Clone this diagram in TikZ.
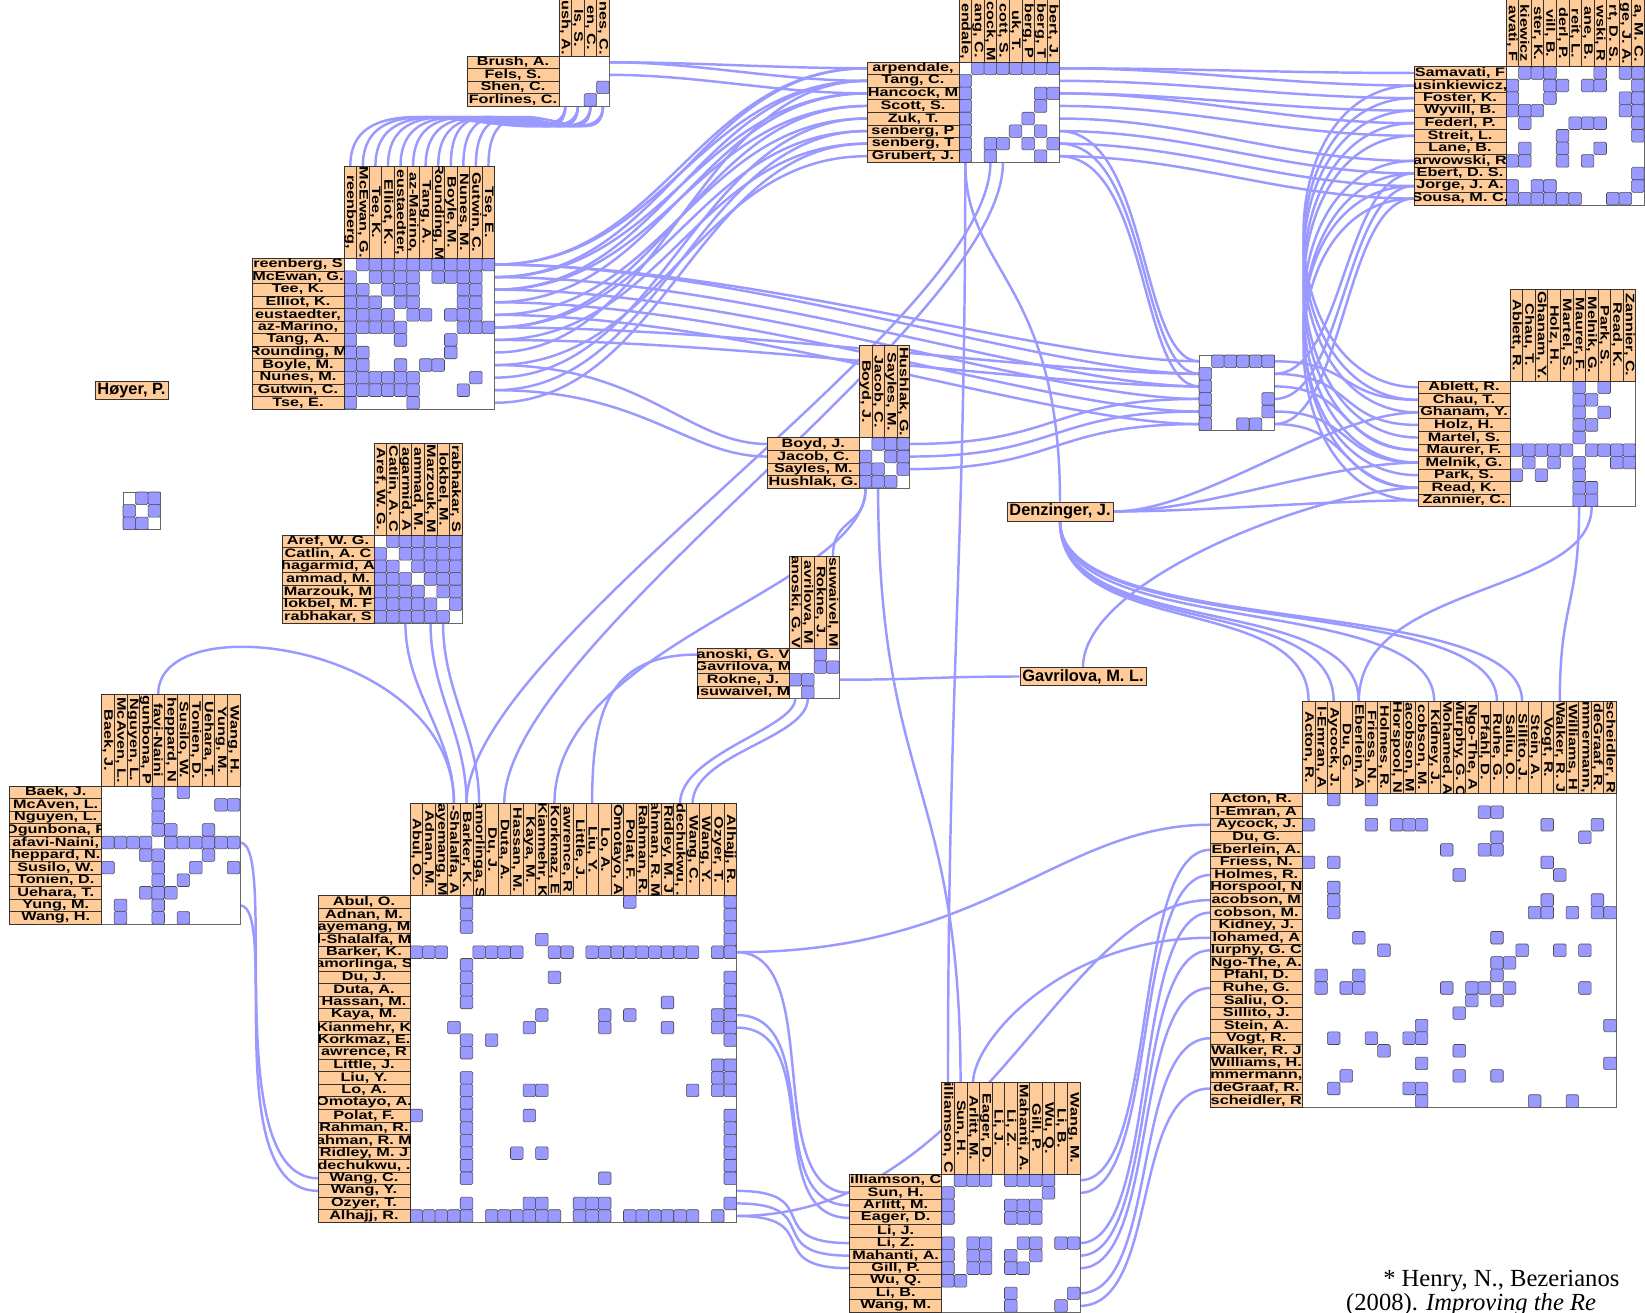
\documentclass[tikz,border=0pt]{standalone}
\usepackage{fontspec}
\setmainfont{Liberation Serif}
\newfontfamily\lblfont{Liberation Sans}[FakeStretch=1.32]
\newfontfamily\tagfont{Liberation Sans}
\usetikzlibrary{positioning,backgrounds}

\definecolor{peach}{RGB}{255,204,153}
\definecolor{linkblue}{RGB}{153,153,255}
\definecolor{cellblue}{RGB}{153,153,255}

\newcommand\cs{12.56}
\newcommand\lw{92}

\tikzset{
  link/.style={draw=linkblue, line width=2.1pt},
  mframe/.style={draw=black!60, line width=0.6pt, fill=white},
  lblbox/.style={draw=black!80, line width=0.5pt, fill=peach},
  lbltext/.style={font=\lblfont\bfseries\fontsize{10.5}{10.5}\selectfont, inner sep=0pt},
  cell/.style={draw=black!70, fill=cellblue, line width=0.5pt, rounded corners=1.2pt},
  tag/.style={draw=black!80, line width=0.6pt, fill=peach, inner xsep=2pt, inner ysep=1.5pt,
    font=\tagfont\bfseries\fontsize{14}{15}\selectfont},
}

% cells of a matrix and the anchors of its rows and columns
% #1 name, #2 x, #3 y (top left of the cells), #4 size, #5 pairs, #6 label offset
\newcommand\cells[6]{%
  \pgfmathsetmacro\mx{#2}\pgfmathsetmacro\my{#3}\pgfmathsetmacro\ms{#4*\cs}
  \draw[mframe] (\mx,\my) rectangle ++(\ms,\ms);
  \foreach \i/\j in {#5} {
    \draw[cell] ({\mx+(\j-1)*\cs},{\my+(\i-1)*\cs}) rectangle ++(\cs,\cs);
    \draw[cell] ({\mx+(\i-1)*\cs},{\my+(\j-1)*\cs}) rectangle ++(\cs,\cs);
  }
  \foreach \k in {1,...,#4} {
    \coordinate (#1-w\k) at ({\mx-#6},{\my+(\k-0.5)*\cs});
    \coordinate (#1-e\k) at ({\mx+\ms},{\my+(\k-0.5)*\cs});
    \coordinate (#1-t\k) at ({\mx+(\k-0.5)*\cs},{\my-#6});
    \coordinate (#1-b\k) at ({\mx+(\k-0.5)*\cs},{\my+\ms});
  }
}
% a labelled matrix: #1 name, #2 x, #3 y, #4 size, #5 row labels, #6 column labels, #7 pairs
\newcommand\nodetrix[7]{%
  \cells{#1}{#2}{#3}{#4}{#7}{\lw}
  \foreach \lab [count=\i] in {#5} {
    \pgfmathsetmacro\ry{#3+(\i-1)*\cs}
    \draw[lblbox] ({#2-\lw},\ry) rectangle ++(\lw,\cs);
    \begin{scope}
      \clip ({#2-\lw},\ry) rectangle ++(\lw,\cs);
      \node[lbltext] (#1-r\i) at ({#2-\lw/2},{\ry+\cs/2}) {\lab};
    \end{scope}
  }
  \pgfmathsetmacro\hy{max(#3-\lw/2,#3/2)}
  \foreach \lab [count=\j] in {#6} {
    \pgfmathsetmacro\cx{#2+(\j-1)*\cs}
    \draw[lblbox] (\cx,{#3-\lw}) rectangle ++(\cs,\lw);
    \begin{scope}
      \clip (\cx,{#3-\lw}) rectangle ++(\cs,\lw);
      \node[lbltext, rotate=-90] (#1-c\j) at ({\cx+\cs/2},\hy) {\lab};
    \end{scope}
  }
}

\begin{document}
\begin{tikzpicture}[x=0.3mm,y=-0.3mm]
\useasboundingbox (0,0) rectangle (1645,1313);

% Brush
\nodetrix{brush}{559}{56}{4}
  {{Brush, A.},{Fels, S.},{Shen, C.},{Forlines, C.}}
  {{ush, A.},{ls, S.},{en, C.},{nes, C.}}
  {3/4}
% Greenberg
\nodetrix{greenberg}{344}{258.3}{12}
  {{reenberg, S},{McEwan, G.},{Tee, K.},{Elliot, K.},{eustaedter,},{az-Marino,},{Tang, A.},{Rounding, M},{Boyle, M.},{Nunes, M.},{Gutwin, C.},{Tse, E.}}
  {{reenberg,},{McEwan, G.},{Tee, K.},{Elliot, K.},{eustaedter,},{az-Marino,},{Tang, A.},{Rounding, M},{Boyle, M.},{Nunes, M.},{Gutwin, C.},{Tse, E.}}
  {1/2,1/3,1/4,1/5,1/6,1/7,1/8,1/9,1/10,1/11,1/12,2/3,2/4,2/5,2/6,2/8,2/9,2/10,2/11,3/4,3/5,3/6,3/10,3/11,4/5,4/6,4/10,4/11,5/6,5/7,5/9,5/10,5/11,6/10,6/11,6/12,7/9,8/9,10/11}
% Carpendale
\nodetrix{carpendale}{959}{62}{8}
  {{arpendale,},{Tang, C.},{Hancock, M},{Scott, S.},{Zuk, T.},{senberg, P},{senberg, T},{Grubert, J.}}
  {{endale,},{ang, C.},{cock, M},{cott, S.},{uk, T.},{berg, P},{berg, T},{bert, J.}}
  {1/2,1/3,1/4,1/5,1/6,1/7,1/8,3/7,3/8,4/7,5/6,6/7,7/8}
% Samavati
\nodetrix{samavati}{1506}{66.7}{11}
  {{Samavati, F},{usinkiewicz,},{Foster, K.},{Wyvill, B.},{Federl, P.},{Streit, L.},{Lane, B.},{arwowski, R},{Ebert, D. S.},{Jorge, J. A.},{Sousa, M. C.}}
  {{avati, F},{kiewicz},{ster, K.},{vill, B.},{derl, P.},{reit, L.},{ane, B.},{wski, R},{rt, D. S.},{ge, J. A.},{a, M. C.}}
  {1/2,1/3,1/4,1/8,1/10,1/11,2/4,2/5,2/7,2/8,2/11,3/4,3/10,3/11,4/10,4/11,5/6,5/7,5/8,5/11,6/11,7/8,9/11,10/11}
% Ablett
\nodetrix{ablett}{1510}{381}{10}
  {{Ablett, R.},{Chau, T.},{Ghanam, Y.},{Holz, H.},{Martel, S.},{Maurer, F.},{Melnik, G.},{Park, S.},{Read, K.},{Zannier, C.}}
  {{Ablett, R.},{Chau, T.},{Ghanam, Y.},{Holz, H.},{Martel, S.},{Maurer, F.},{Melnik, G.},{Park, S.},{Read, K.},{Zannier, C.}}
  {1/6,1/8,2/6,2/7,3/6,3/8,4/6,4/7,5/6,6/7,6/8,6/9,6/10,7/9,7/10}
% Aref
\nodetrix{aref}{374}{535}{7}
  {{Aref, W. G.},{Catlin, A. C},{hagarmid, A},{ammad, M.},{Marzouk, M},{lokbel, M. F},{rabhakar, S}}
  {{Aref, W. G.},{Catlin, A. C},{agarmid, A},{ammad, M.},{Marzouk, M},{lokbel, M.},{rabhakar, S}}
  {1/2,1/3,1/4,1/5,1/6,1/7,2/3,2/4,2/5,2/6,2/7,3/4,3/5,3/6,3/7,4/5,4/6,4/7,5/6,5/7,6/7}
% Boyd
\nodetrix{boyd}{859.3}{437.7}{4}
  {{Boyd, J.},{Jacob, C.},{Sayles, M.},{Hushlak, G.}}
  {{Boyd, J.},{Jacob, C.},{Sayles, M.},{Hushlak, G.}}
  {1/2,1/3,1/4,2/3,2/4,3/4}
% Rokne
\nodetrix{rokne}{789}{648.3}{4}
  {{anoski, G. V},{Gavrilova, M},{Rokne, J.},{Isuwaivel, M}}
  {{anoski, G. V},{avrilova, M},{Rokne, J.},{suwaivel, M}}
  {1/3,2/3,2/4}
% Baek
\nodetrix{baek}{101.7}{786}{11}
  {{Baek, J.},{McAven, L.},{Nguyen, L.},{Ogunbona, P},{afavi-Naini,},{heppard, N.},{Susilo, W.},{Tonien, D.},{Uehara, T.},{Yung, M.},{Wang, H.}}
  {{Baek, J.},{McAven, L.},{Nguyen, L.},{gunbona, P},{favi-Naini},{heppard, N},{Susilo, W.},{Tonien, D.},{Uehara, T.},{Yung, M.},{Wang, H.}}
  {1/5,1/7,2/5,2/10,2/11,3/5,4/5,4/6,4/9,5/6,5/7,5/8,5/9,5/10,5/11,6/9,7/8,7/11}
% Alhajj
\nodetrix{alhajj}{410}{895.7}{26}
  {{Abul, O.},{Adnan, M.},{ayemang, M},{l-Shalalfa, M},{Barker, K.},{amorlinga, S},{Du, J.},{Duta, A.},{Hassan, M.},{Kaya, M.},{Kianmehr, K},{Korkmaz, E.},{awrence, R},{Little, J.},{Liu, Y.},{Lo, A.},{Omotayo, A.},{Polat, F.},{Rahman, R.},{ahman, R. M},{Ridley, M. J},{dechukwu, .},{Wang, C.},{Wang, Y.},{Ozyer, T.},{Alhajj, R.}}
  {{Abul, O.},{Adnan, M.},{ayemang, M},{-Shalalfa, A},{Barker, K.},{amorlinga, S},{Du, J.},{Duta, A.},{Hassan, M.},{Kaya, M.},{Kianmehr, K},{Korkmaz, E},{awrence, R},{Little, J.},{Liu, Y.},{Lo, A.},{Omotayo, A},{Polat, F.},{Rahman, R.},{ahman, R. M},{Ridley, M. J},{dechukwu, .},{Wang, C.},{Wang, Y.},{Ozyer, T.},{Alhajj, R.}}
  {1/5,1/18,1/26,2/5,2/26,3/5,3/26,4/11,4/26,5/6,5/7,5/8,5/9,5/12,5/13,5/15,5/16,5/17,5/18,5/19,5/20,5/21,5/22,5/23,5/25,5/26,7/12,7/26,8/26,9/21,9/26,10/11,10/16,10/18,10/25,10/26,11/16,11/21,11/25,11/26,12/26,14/25,14/26,15/25,15/26,16/23,16/25,16/26,18/26,19/26,20/26,21/26,22/26,23/26,25/26}
% Williamson
\nodetrix{williamson}{941.7}{1174}{11}
  {{illiamson, C},{Sun, H.},{Arlitt, M.},{Eager, D.},{Li, J.},{Li, Z.},{Mahanti, A.},{Gill, P.},{Wu, Q.},{Li, B.},{Wang, M.}}
  {{illiamson, C},{Sun, H.},{Arlitt, M.},{Eager, D.},{Li, J.},{Li, Z.},{Mahanti, A.},{Gill, P.},{Wu, Q.},{Li, B.},{Wang, M.}}
  {1/2,1/3,1/4,1/6,1/7,1/8,1/9,2/9,3/6,3/7,3/8,4/6,4/7,4/8,6/7,6/8,6/10,6/11,7/8,10/11}
% Acton
\nodetrix{acton}{1302.3}{793.3}{25}
  {{Acton, R.},{l-Emran, A},{Aycock, J.},{Du, G.},{Eberlein, A.},{Friess, N.},{Holmes, R.},{Horspool, N},{acobson, M},{cobson, M.},{Kidney, J.},{lohamed, A},{lurphy, G. C},{Ngo-The, A.},{Pfahl, D.},{Ruhe, G.},{Saliu, O.},{Sillito, J.},{Stein, A.},{Vogt, R.},{Walker, R. J},{Williams, H.},{mmermann,},{deGraaf, R.},{scheidler, R}}
  {{Acton, R.},{l-Emran, A},{Aycock, J.},{Du, G.},{Eberlein, A},{Friess, N.},{Holmes, R.},{Horspool, N},{acobson, M},{cobson, M.},{Kidney, J.},{Mohamed, A},{Murphy, G. C},{Ngo-The, A},{Pfahl, D.},{Ruhe, G.},{Saliu, O.},{Sillito, J.},{Stein, A.},{Vogt, R.},{Walker, R. J},{Williams, H},{mmermann,},{deGraaf, R.},{scheidler, R}}
  {1/3,1/6,2/15,2/16,3/6,3/8,3/9,3/10,3/20,3/24,4/16,4/23,5/12,5/15,5/16,6/20,7/13,7/21,9/20,9/24,10/19,10/20,10/22,10/24,10/25,12/16,13/18,13/21,13/23,14/16,14/17,15/16,16/17,16/23,19/25,22/25}
% matrices without labels
\cells{mid}{1199}{355}{6}{1/2,1/3,1/4,1/5,1/6,4/6,5/6}{0}
\cells{tiny}{123}{492}{3}{1/2,1/3,2/3}{0}

% single authors
\node[tag] (hoyer) at (131.5,390.5) {Høyer, P.};
\node[tag] (denzinger) at (1060,511.5) {Denzinger, J.};
\node[tag] (gavrilova) at (1083,676.5) {Gavrilova, M. L.};

% reference
\node[anchor=base west, font=\fontsize{21}{24}\selectfont, inner sep=0pt] (cite1) at (1383,1286) {* Henry, N., Bezerianos};
\node[anchor=base west, font=\fontsize{21}{24}\selectfont, inner sep=0pt] (cite2) at (1346,1310) {(2008). \textit{Improving the Re}};

\begin{scope}[on background layer]
  % Brush to Carpendale
  \foreach \a/\b in {1/1,1/2,2/3}
    \draw[link] (brush-e\a) .. controls +(90,0) and +(-90,0) .. (carpendale-w\b);
  % Greenberg to Brush
  \foreach \a/\b in {1/1,2/1,3/2,4/2,5/3,6/3,7/4,8/4,9/1,10/2,11/3,12/4}
    \draw[link] (greenberg-t\a) .. controls +(0,-105) and +(0,60) .. (brush-b\b);
  % Greenberg to Carpendale
  \foreach \a/\b in {1/1,1/2,2/1,2/3,3/2,3/4,4/3,5/5,6/4,6/6,7/7,8/2,9/8,10/5,11/6,12/7}
    \draw[link] (greenberg-e\a) .. controls +(170,0) and +(-170,0) .. (carpendale-w\b);
  % Greenberg to the middle matrix
  \foreach \a/\b in {1/1,1/2,2/3,3/4,4/5,5/6,6/2,7/3}
    \draw[link] (greenberg-e\a) .. controls +(250,0) and +(-150,0) .. (mid-w\b);
  % Greenberg to Boyd
  \foreach \a/\b in {9/1,11/2}
    \draw[link] (greenberg-e\a) .. controls +(150,0) and +(-80,0) .. (boyd-w\b);
  % Carpendale to Samavati
  \foreach \a/\b in {1/1,1/2,2/3,3/4,3/5,4/6,5/8,6/9,7/10,8/11}
    \draw[link] (carpendale-e\a) .. controls +(130,0) and +(-130,0) .. (samavati-w\b);
  % Carpendale to the middle matrix
  \foreach \a/\b in {6/1,7/2,8/3}
    \draw[link] (carpendale-e\a) .. controls +(90,0) and +(-60,0) .. (mid-w\b);
  % Samavati to Ablett
  \foreach \a/\b in {2/1,3/2,4/3,5/5,6/6,8/7,9/9,10/8,11/10}
    \draw[link] (samavati-w\a) .. controls +(-150,0) and +(-150,0) .. (ablett-w\b);
  % middle matrix to Samavati and Ablett
  \foreach \a/\b in {2/9,4/10,6/11}
    \draw[link] (mid-e\a) .. controls +(70,0) and +(-70,0) .. (samavati-w\b);
  \foreach \a/\b in {1/2,2/4,3/6,5/7,6/9}
    \draw[link] (mid-e\a) .. controls +(80,0) and +(-80,0) .. (ablett-w\b);
  % Boyd to middle matrix
  \foreach \a/\b in {1/4,2/5,3/6}
    \draw[link] (boyd-e\a) .. controls +(150,0) and +(-150,0) .. (mid-w\b);
  % Denzinger
  \foreach \b in {3,7,10}
    \draw[link] (denzinger.east) .. controls +(90,0) and +(-90,0) .. (ablett-w\b);
  \foreach \b in {1,3,5,11,16,18}
    \draw[link] (denzinger.south) .. controls +(0,120) and +(0,-110) .. (acton-t\b);
  \draw[link] (denzinger.north) .. controls +(0,-220) and +(0,110) .. (carpendale-b1);
  % Ablett to Acton
  \draw[link] (ablett-b6) .. controls +(0,100) and +(0,-100) .. (acton-t21);
  \draw[link] (ablett-b7) .. controls +(0,90) and +(0,-120) .. (acton-t5);
  % Carpendale to Williamson
  \draw[link] (carpendale-b1) .. controls +(0,400) and +(0,-400) .. (williamson-t1);
  % Boyd
  \draw[link] (boyd-b1) .. controls +(0,40) and +(0,-40) .. (rokne-t4);
  \draw[link] (boyd-b2) .. controls +(0,300) and +(0,-300) .. (williamson-t2);
  \draw[link] (boyd-b1) .. controls +(0,100) and +(0,-160) .. (alhajj-t12);
  % Alhajj up to Carpendale
  \foreach \a/\b in {5/3,8/4}
    \draw[link] (alhajj-t\a) .. controls +(0,-160) and +(0,160) .. (carpendale-b\b);
  % Aref to Alhajj
  \foreach \a/\b in {3/4,5/5,6/6}
    \draw[link] (aref-b\a) .. controls +(0,70) and +(0,-70) .. (alhajj-t\b);
  % Baek to Alhajj
  \draw[link] (baek-t5) .. controls +(0,-90) and +(0,-160) .. (alhajj-t4);
  \foreach \a/\b in {5/23,10/24}
    \draw[link] (baek-e\a) .. controls +(40,0) and +(-100,0) .. (alhajj-w\b);
  % Rokne
  \draw[link] (rokne-e3) .. controls +(80,0) and +(-80,0) .. (gavrilova.west);
  \draw[link] (rokne-w1) .. controls +(-90,0) and +(0,-90) .. (alhajj-t15);
  \draw[link] (rokne-b1) .. controls +(0,30) and +(0,-50) .. (alhajj-t22);
  \draw[link] (rokne-b2) .. controls +(0,40) and +(0,-50) .. (alhajj-t23);
  % Gavrilova
  \draw[link] (gavrilova.north) .. controls +(0,-90) and +(-90,0) .. (ablett-w9);
  % Alhajj to Williamson
  \foreach \a/\b in {5/2,10/3,11/4,24/6,25/7,26/8}
    \draw[link] (alhajj-e\a) .. controls +(90,0) and +(-90,0) .. (williamson-w\b);
  % Alhajj to Acton
  \foreach \a/\b in {5/3,26/9}
    \draw[link] (alhajj-e\a) .. controls +(250,0) and +(-150,0) .. (acton-w\b);
  % Williamson to Acton
  \draw[link] (williamson-t3) .. controls +(0,-40) and +(-150,0) .. (acton-w12);
  \foreach \a/\b in {1/5,2/7,6/10,7/13,8/16,10/20,11/24}
    \draw[link] (williamson-e\a) .. controls +(80,0) and +(-80,0) .. (acton-w\b);
\end{scope}
\end{tikzpicture}
\end{document}
